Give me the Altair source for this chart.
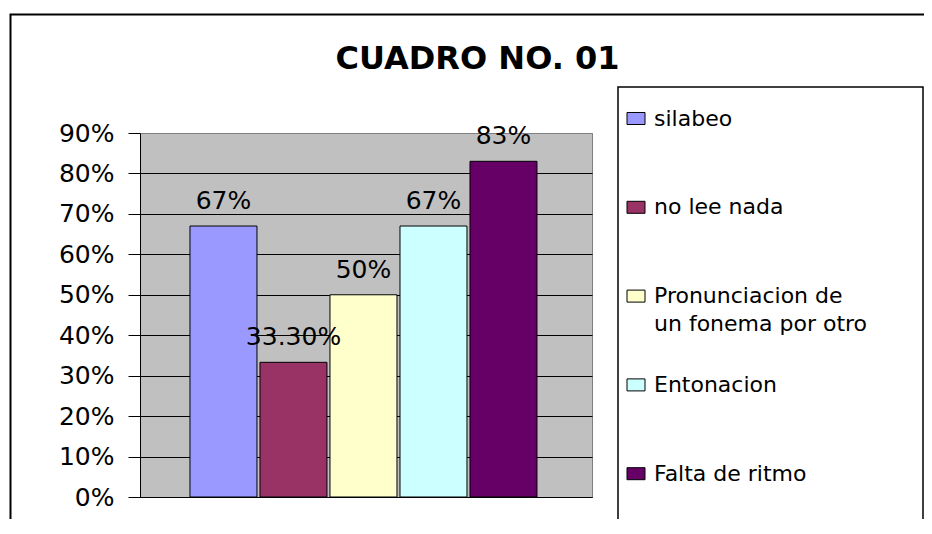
import altair as alt
import pandas as pd

# ---- data ----
categorias = ["silabeo", "no lee nada", "Pronunciacion de\nun fonema por otro", "Entonacion", "Falta de ritmo"]
valores = [0.67, 0.333, 0.50, 0.67, 0.83]
etiquetas = ["67%", "33.30%", "50%", "67%", "83%"]
colores = ["#9999FF", "#993366", "#FFFFCC", "#CCFFFF", "#660066"]
titulo = "CUADRO NO. 01"

df = pd.DataFrame({"serie": categorias, "valor": valores, "etiqueta": etiquetas})
uno = pd.DataFrame({"k": [0]})

FONT = "DejaVu Sans"

x_enc = alt.X(
    "serie:N",
    sort=categorias,
    title=None,
    scale=alt.Scale(paddingInner=0.043, paddingOuter=0.75, align=0.476),
    axis=alt.Axis(labels=False, ticks=False, domain=True, domainColor="black", domainWidth=1, grid=False),
)
y_enc = alt.Y(
    "valor:Q",
    title=None,
    scale=alt.Scale(domain=[0, 0.9], nice=False),
    axis=alt.Axis(
        values=[0, 0.1, 0.2, 0.3, 0.4, 0.5, 0.6, 0.7, 0.8, 0.9],
        format=".0%",
        labelFont=FONT,
        labelFontSize=25,
        labelColor="black",
        labelPadding=14,
        tickSize=12,
        tickColor="black",
        tickWidth=1,
        domainColor="black",
        domainWidth=1,
        grid=True,
        gridColor=alt.condition("datum.value >= 0.9", alt.value("#808080"), alt.value("black")),
        gridWidth=1,
    ),
)

# every legend label is given two lines (the second blank when not needed) so all rows are equal
bars = alt.Chart(df).mark_bar(stroke="black", strokeWidth=1, opacity=1).encode(
    x=x_enc,
    y=y_enc,
    color=alt.Color(
        "serie:N",
        sort=categorias,
        scale=alt.Scale(domain=categorias, range=colores),
        legend=alt.Legend(
            title=None,
            orient="none",
            legendX=485,
            legendY=-25.5,
            padding=0,
            labelFont=FONT,
            labelFontSize=22,
            labelColor="black",
            labelOffset=7,
            labelLimit=400,
            labelExpr="split(indexof(datum.label, '\\n') < 0 ? datum.label + '\\n ' : datum.label, '\\n')",
            rowPadding=38.8,
            symbolType="M-1,-0.667H1V0.667H-1Z",
            symbolSize=324,
            symbolStrokeColor="black",
            symbolStrokeWidth=1,
            symbolOpacity=1,
        ),
    ),
)

labels = alt.Chart(df).mark_text(
    font=FONT, fontSize=25, color="black", baseline="alphabetic", align="center", dy=-17
).encode(x=alt.X("serie:N", sort=categorias), y="valor:Q", text="etiqueta:N")

outer_border = alt.Chart(uno).mark_rect(fill=None, stroke="black", strokeWidth=2).encode(
    x=alt.value(-129.5), x2=alt.value(900), y=alt.value(-118.5), y2=alt.value(600)
)
legend_box = alt.Chart(uno).mark_rect(fill=None, stroke="black", strokeWidth=1.5).encode(
    x=alt.value(478), x2=alt.value(783), y=alt.value(-46), y2=alt.value(397)
)
title_mark = alt.Chart(uno).mark_text(
    font=FONT, fontSize=32, fontWeight="bold", color="black", align="center", baseline="alphabetic"
).encode(x=alt.value(337.5), y=alt.value(-64), text=alt.value(titulo))

chart = (
    alt.layer(outer_border, legend_box, bars, labels, title_mark)
    .properties(
        width=452,
        height=364,
        autosize=alt.AutoSizeParams(type="none"),
        padding={"left": 132, "top": 125, "right": 332, "bottom": 22},
        background="white",
    )
    .configure(style={"guide-label": {"lineHeight": 28}})
    .configure_view(fill="#C0C0C0", stroke="#808080", strokeWidth=1)
)

chart.save("out.html", embed_options={"renderer": "svg", "actions": False})
